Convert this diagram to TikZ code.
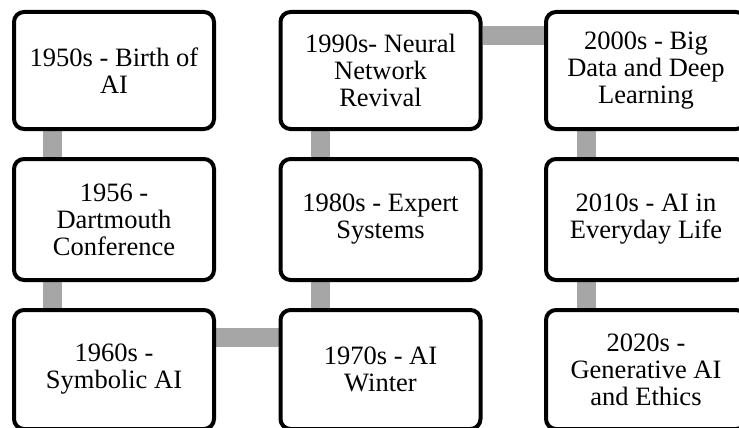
\documentclass[tikz,border=0pt]{standalone}
\usepackage{fontspec}
\setmainfont{Liberation Serif}
\usetikzlibrary{backgrounds}
\tikzset{
  evbox/.style={draw=black, line width=4pt, fill=white, rounded corners=10pt,
    minimum width=200pt, align=center, inner sep=0pt,
    font=\fontsize{26.5pt}{27pt}\selectfont},
  conn/.style={draw=black!35, line width=19pt}
}
\begin{document}
\begin{tikzpicture}[x=1pt,y=-1pt]
\useasboundingbox (0,0) rectangle (739,428);
\clip (0,0) rectangle (739,428);
% row 1
\node[evbox, minimum height=117pt] (a) at (114,70.5) {1950s - Birth of\\AI};
\node[evbox, minimum height=117pt] (h) at (380.5,70.5) {1990s- Neural\\Network\\Revival};
\node[evbox, minimum height=117pt] (i) at (646,70.5) {2000s - Big\\Data and Deep\\Learning};
% row 2
\node[evbox, minimum height=121pt] (b) at (114,219.5) {1956 -\\Dartmouth\\Conference};
\node[evbox, minimum height=121pt] (g) at (380.5,219.5) {1980s - Expert\\Systems};
\node[evbox, minimum height=121pt] (j) at (646,219.5) {2010s - AI in\\Everyday Life};
% row 3
\node[evbox, minimum height=119pt] (c) at (114,369.5) {1960s -\\Symbolic AI};
\node[evbox, minimum height=119pt] (f) at (380.5,369.5) {1970s - AI\\Winter};
\node[evbox, minimum height=119pt] (k) at (646,369.5) {2020s -\\Generative AI\\and Ethics};
\begin{scope}[on background layer]
\draw[conn] ([xshift=40.5pt]a.south west) -- ([xshift=40.5pt]b.north west);
\draw[conn] ([xshift=40.5pt]b.south west) -- ([xshift=40.5pt]c.north west);
\draw[conn] ([yshift=-29pt]c.north east) -- ([yshift=-29pt]f.north west);
\draw[conn] ([xshift=41.5pt]f.north west) -- ([xshift=41.5pt]g.south west);
\draw[conn] ([xshift=41.5pt]g.north west) -- ([xshift=41.5pt]h.south west);
\draw[conn] ([yshift=-26pt]h.north east) -- ([yshift=-26pt]i.north west);
\draw[conn] ([xshift=42.5pt]i.south west) -- ([xshift=42.5pt]j.north west);
\draw[conn] ([xshift=42.5pt]j.south west) -- ([xshift=42.5pt]k.north west);
\end{scope}
\end{tikzpicture}
\end{document}
